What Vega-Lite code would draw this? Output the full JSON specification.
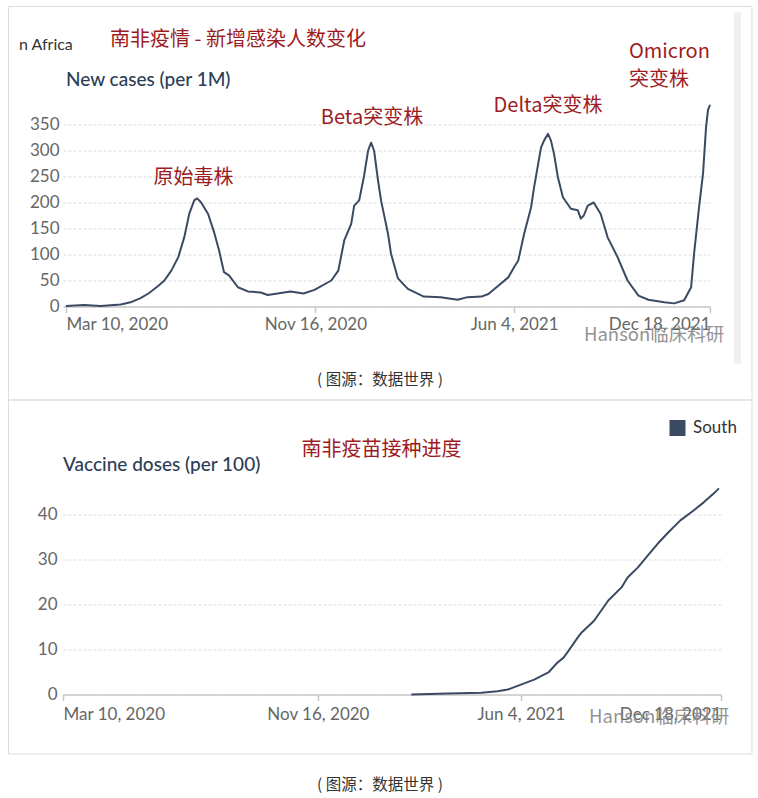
{
  "$schema": "https://vega.github.io/schema/vega-lite/v6.json",
  "background": "white",
  "padding": {"left": 7, "top": 5.5, "right": 0, "bottom": 0},
  "autosize": {"type": "pad"},
  "bounds": "flush",
  "spacing": 181,
  "config": {"view": {"stroke": null}},
  "vconcat": [
    {
      "width": 647,
      "height": 208,
      "encoding": {
        "x": {
          "field": "date", "type": "temporal", "title": null,
          "scale": {"type": "utc", "nice": false, "domain": [{"year": 2020, "month": 3, "date": 7, "utc": true}, {"year": 2021, "month": 12, "date": 18, "utc": true}]},
          "axis": {
            "values": [{"year": 2020, "month": 3, "date": 10, "utc": true}, {"year": 2020, "month": 11, "date": 16, "utc": true}, {"year": 2021, "month": 6, "date": 4, "utc": true}, {"year": 2021, "month": 12, "date": 18, "utc": true}],
            "labelExpr": "utcFormat(datum.value, '%b %-d, %Y')",
            "labelFlush": 5, "labelOverlap": false, "labelBound": false, "grid": false,
            "domainColor": "#c8c8c8", "domainWidth": 1.5, "tickColor": "#c8c8c8", "tickWidth": 1.5, "tickSize": 6,
            "labelFont": "Lato", "labelFontSize": 17, "labelColor": "#666666", "labelPadding": 4
          }
        },
        "y": {
          "field": "value", "type": "quantitative", "title": null,
          "scale": {"domain": [0, 400], "nice": false},
          "axis": {
            "values": [0, 50, 100, 150, 200, 250, 300, 350],
            "domain": false, "ticks": false, "gridColor": "#dcdcdc", "gridDash": [3, 2], "gridWidth": 1,
            "labelFont": "Lato", "labelFontSize": 17, "labelColor": "#666666", "labelPadding": 4
          }
        }
      },
      "layer": [
        {
          "data": {"values": [{"date": "2020-01-12T03:00:00Z", "date2": "2022-01-29T06:00:00Z", "value": -179.8, "value2": 576.9}], "format": {"parse": {"date": "date", "date2": "date"}}},
          "mark": {"type": "rect", "fill": "transparent", "stroke": "#dcdcdc", "strokeWidth": 1},
          "encoding": {"x2": {"field": "date2"}, "y2": {"field": "value2"}}
        },
        {
          "data": {"values": [{"date": "2022-01-11T02:00:00Z", "date2": "2022-01-18T05:00:00Z", "value": -109.6, "value2": 565.4}], "format": {"parse": {"date": "date", "date2": "date"}}},
          "mark": {"type": "rect", "fill": "#f0f0f0"},
          "encoding": {"x2": {"field": "date2"}, "y2": {"field": "value2"}}
        },
        {
          "data": {"values": [
            {"date": "2020-03-10", "value": 1}, {"date": "2020-03-28", "value": 3}, {"date": "2020-04-14", "value": 1},
            {"date": "2020-05-04", "value": 4}, {"date": "2020-05-14", "value": 8}, {"date": "2020-05-24", "value": 16},
            {"date": "2020-06-01", "value": 25}, {"date": "2020-06-11", "value": 40}, {"date": "2020-06-17", "value": 50},
            {"date": "2020-06-24", "value": 69}, {"date": "2020-07-01", "value": 95}, {"date": "2020-07-07", "value": 133},
            {"date": "2020-07-12", "value": 178}, {"date": "2020-07-17", "value": 204}, {"date": "2020-07-20", "value": 208},
            {"date": "2020-07-24", "value": 200}, {"date": "2020-07-31", "value": 178}, {"date": "2020-08-06", "value": 143},
            {"date": "2020-08-11", "value": 108}, {"date": "2020-08-16", "value": 66}, {"date": "2020-08-21", "value": 60},
            {"date": "2020-08-30", "value": 37}, {"date": "2020-09-09", "value": 29}, {"date": "2020-09-22", "value": 27},
            {"date": "2020-09-29", "value": 22}, {"date": "2020-10-09", "value": 25}, {"date": "2020-10-22", "value": 29},
            {"date": "2020-11-04", "value": 25}, {"date": "2020-11-15", "value": 32}, {"date": "2020-12-02", "value": 50},
            {"date": "2020-12-09", "value": 69}, {"date": "2020-12-15", "value": 127}, {"date": "2020-12-22", "value": 159},
            {"date": "2020-12-25", "value": 194}, {"date": "2020-12-30", "value": 204}, {"date": "2021-01-04", "value": 252},
            {"date": "2021-01-08", "value": 300}, {"date": "2021-01-11", "value": 315}, {"date": "2021-01-14", "value": 300},
            {"date": "2021-01-18", "value": 242}, {"date": "2021-01-21", "value": 204}, {"date": "2021-01-28", "value": 140},
            {"date": "2021-01-31", "value": 102}, {"date": "2021-02-07", "value": 54}, {"date": "2021-02-17", "value": 34},
            {"date": "2021-03-05", "value": 19}, {"date": "2021-03-22", "value": 18}, {"date": "2021-04-08", "value": 13},
            {"date": "2021-04-18", "value": 18}, {"date": "2021-05-02", "value": 19}, {"date": "2021-05-09", "value": 24},
            {"date": "2021-05-19", "value": 40}, {"date": "2021-05-29", "value": 56}, {"date": "2021-06-04", "value": 76},
            {"date": "2021-06-08", "value": 88}, {"date": "2021-06-14", "value": 140}, {"date": "2021-06-21", "value": 191},
            {"date": "2021-06-24", "value": 229}, {"date": "2021-07-01", "value": 306}, {"date": "2021-07-04", "value": 319},
            {"date": "2021-07-08", "value": 332}, {"date": "2021-07-11", "value": 319}, {"date": "2021-07-14", "value": 294},
            {"date": "2021-07-18", "value": 248}, {"date": "2021-07-23", "value": 210}, {"date": "2021-07-31", "value": 188},
            {"date": "2021-08-07", "value": 185}, {"date": "2021-08-10", "value": 169}, {"date": "2021-08-13", "value": 175},
            {"date": "2021-08-17", "value": 194}, {"date": "2021-08-23", "value": 200}, {"date": "2021-08-30", "value": 178},
            {"date": "2021-09-06", "value": 133}, {"date": "2021-09-16", "value": 95}, {"date": "2021-09-26", "value": 50},
            {"date": "2021-10-07", "value": 21}, {"date": "2021-10-17", "value": 13}, {"date": "2021-11-02", "value": 8},
            {"date": "2021-11-12", "value": 6}, {"date": "2021-11-22", "value": 12}, {"date": "2021-11-29", "value": 37},
            {"date": "2021-12-02", "value": 102}, {"date": "2021-12-07", "value": 191}, {"date": "2021-12-11", "value": 256},
            {"date": "2021-12-14", "value": 344}, {"date": "2021-12-16", "value": 378}, {"date": "2021-12-18", "value": 388}
          ]},
          "mark": {"type": "line", "color": "#3b4a63", "strokeWidth": 2, "strokeJoin": "round"}
        },
        {
          "data": {"values": [
            {"label": "南非疫情 - 新增感染人数变化", "date": "2020-08-30T01:00:00Z", "value": 501.5},
            {"label": "原始毒株", "date": "2020-07-16T07:00:00Z", "value": 235.6},
            {"label": "Beta突变株", "date": "2021-01-11T22:00:00Z", "value": 351.3},
            {"label": "Delta突变株", "date": "2021-07-08T00:00:00Z", "value": 373.7}
          ]},
          "mark": {"type": "text", "font": "Noto Sans CJK SC", "fontSize": 20, "color": "#9c1c1f", "align": "center", "baseline": "alphabetic"},
          "encoding": {"text": {"field": "label"}}
        },
        {
          "data": {"values": [
            {"label": "Omicron", "date": "2021-09-27T12:00:00Z", "value": 478.3},
            {"label": "突变株", "date": "2021-09-27T12:00:00Z", "value": 424.6}
          ]},
          "mark": {"type": "text", "font": "Noto Sans CJK SC", "fontSize": 20, "color": "#9c1c1f", "align": "left", "baseline": "alphabetic"},
          "encoding": {"text": {"field": "label"}}
        },
        {
          "data": {"values": [{"label": "New cases (per 1M)", "date": "2020-03-10T00:00:00Z", "value": 423.1}]},
          "mark": {"type": "text", "font": "Lato", "fontSize": 19, "fontWeight": 500, "color": "#2c3e57", "align": "left", "baseline": "alphabetic"},
          "encoding": {"text": {"field": "label"}}
        },
        {
          "data": {"values": [{"label": "n Africa", "date": "2020-01-22T17:00:00Z", "value": 493.7}]},
          "mark": {"type": "text", "font": "Lato", "fontSize": 16, "color": "#333333", "align": "left", "baseline": "alphabetic"},
          "encoding": {"text": {"field": "label"}}
        },
        {
          "data": {"values": [{"label": "Hanson临床科研", "date": "2021-08-13T05:00:00Z", "value": -65.4}]},
          "mark": {"type": "text", "font": "Noto Sans CJK SC", "fontSize": 18.5, "color": "#888888", "opacity": 0.9, "align": "left", "baseline": "alphabetic"},
          "encoding": {"text": {"field": "label"}}
        },
        {
          "data": {"values": [{"label": "( 图源：数据世界 )", "date": "2021-01-19T22:00:00Z", "value": -151.9}]},
          "mark": {"type": "text", "font": "Noto Sans CJK SC", "fontSize": 15.5, "color": "#333333", "align": "center", "baseline": "alphabetic"},
          "encoding": {"text": {"field": "label"}}
        }
      ]
    },
    {
      "width": 658,
      "height": 207,
      "encoding": {
        "x": {
          "field": "date", "type": "temporal", "title": null,
          "scale": {"type": "utc", "nice": false, "domain": [{"year": 2020, "month": 3, "date": 10, "utc": true}, {"year": 2021, "month": 12, "date": 18, "utc": true}]},
          "axis": {
            "values": [{"year": 2020, "month": 3, "date": 10, "utc": true}, {"year": 2020, "month": 11, "date": 16, "utc": true}, {"year": 2021, "month": 6, "date": 4, "utc": true}, {"year": 2021, "month": 12, "date": 18, "utc": true}],
            "labelExpr": "utcFormat(datum.value, '%b %-d, %Y')",
            "labelFlush": true, "labelOverlap": false, "labelBound": false, "grid": false,
            "domainColor": "#c8c8c8", "domainWidth": 1.5, "tickColor": "#c8c8c8", "tickWidth": 1.5, "tickSize": 6,
            "labelFont": "Lato", "labelFontSize": 17, "labelColor": "#666666", "labelPadding": 6
          }
        },
        "y": {
          "field": "value", "type": "quantitative", "title": null,
          "scale": {"domain": [0, 46], "nice": false},
          "axis": {
            "values": [0, 10, 20, 30, 40],
            "domain": false, "ticks": false, "gridColor": "#dcdcdc", "gridDash": [3, 2], "gridWidth": 1,
            "labelFont": "Lato", "labelFontSize": 17, "labelColor": "#666666", "labelPadding": 6
          }
        }
      },
      "layer": [
        {
          "data": {"values": [{"date": "2020-01-16T08:00:00Z", "date2": "2022-01-17T12:00:00Z", "value": -13.22, "value2": 65.44}], "format": {"parse": {"date": "date", "date2": "date"}}},
          "mark": {"type": "rect", "fill": "transparent", "stroke": "#dcdcdc", "strokeWidth": 1},
          "encoding": {"x2": {"field": "date2"}, "y2": {"field": "value2"}}
        },
        {
          "data": {"values": [
            {"entity": "South Africa", "date": "2021-02-16", "value": 0}, {"entity": "South Africa", "date": "2021-03-24", "value": 0.2},
            {"entity": "South Africa", "date": "2021-04-26", "value": 0.4}, {"entity": "South Africa", "date": "2021-05-12", "value": 0.7},
            {"entity": "South Africa", "date": "2021-05-22", "value": 1.1}, {"entity": "South Africa", "date": "2021-06-04", "value": 2.2},
            {"entity": "South Africa", "date": "2021-06-17", "value": 3.3}, {"entity": "South Africa", "date": "2021-07-01", "value": 4.9},
            {"entity": "South Africa", "date": "2021-07-10", "value": 7.1}, {"entity": "South Africa", "date": "2021-07-16", "value": 8.2},
            {"entity": "South Africa", "date": "2021-07-23", "value": 10.4}, {"entity": "South Africa", "date": "2021-07-30", "value": 12.7},
            {"entity": "South Africa", "date": "2021-08-02", "value": 13.6}, {"entity": "South Africa", "date": "2021-08-15", "value": 16.4},
            {"entity": "South Africa", "date": "2021-08-29", "value": 20.9}, {"entity": "South Africa", "date": "2021-09-11", "value": 23.8},
            {"entity": "South Africa", "date": "2021-09-17", "value": 26}, {"entity": "South Africa", "date": "2021-09-27", "value": 28.2},
            {"entity": "South Africa", "date": "2021-10-07", "value": 30.9}, {"entity": "South Africa", "date": "2021-10-17", "value": 33.6},
            {"entity": "South Africa", "date": "2021-10-27", "value": 36}, {"entity": "South Africa", "date": "2021-11-08", "value": 38.7},
            {"entity": "South Africa", "date": "2021-11-21", "value": 40.9}, {"entity": "South Africa", "date": "2021-12-01", "value": 42.7},
            {"entity": "South Africa", "date": "2021-12-11", "value": 44.7}, {"entity": "South Africa", "date": "2021-12-16", "value": 45.8}
          ]},
          "mark": {"type": "line", "strokeWidth": 2, "strokeJoin": "round"},
          "encoding": {
            "color": {
              "field": "entity", "type": "nominal",
              "scale": {"range": ["#3b4a63"]},
              "legend": {
                "orient": "none", "legendX": 606, "legendY": 321, "title": null, "padding": 0,
                "symbolType": "square", "symbolSize": 256, "symbolStrokeWidth": 0, "symbolFillColor": "#3b4a63", "symbolOpacity": 1,
                "labelFont": "Lato", "labelFontSize": 17, "labelColor": "#333333", "labelOffset": 7,
                "labelExpr": "slice(datum.label, 0, 5)",
                "encode": {"symbols": {"update": {"fill": {"value": "#3b4a63"}, "stroke": {"value": "#3b4a63"}, "strokeWidth": {"value": 0}}}}
              }
            }
          }
        },
        {
          "data": {"values": [{"label": "南非疫苗接种进度", "date": "2021-01-17T17:00:00Z", "value": 53.07}]},
          "mark": {"type": "text", "font": "Noto Sans CJK SC", "fontSize": 20, "color": "#9c1c1f", "align": "center", "baseline": "alphabetic"},
          "encoding": {"text": {"field": "label"}}
        },
        {
          "data": {"values": [{"label": "Vaccine doses (per 100)", "date": "2020-03-10T00:00:00Z", "value": 49.62}]},
          "mark": {"type": "text", "font": "Lato", "fontSize": 19, "fontWeight": 500, "color": "#2c3e57", "align": "left", "baseline": "alphabetic"},
          "encoding": {"text": {"field": "label"}}
        },
        {
          "data": {"values": [{"label": "Hanson临床科研", "date": "2021-08-10T00:00:00Z", "value": -6.44}]},
          "mark": {"type": "text", "font": "Noto Sans CJK SC", "fontSize": 18.5, "color": "#888888", "opacity": 0.9, "align": "left", "baseline": "alphabetic"},
          "encoding": {"text": {"field": "label"}}
        },
        {
          "data": {"values": [{"label": "( 图源：数据世界 )", "date": "2021-01-16T05:00:00Z", "value": -21.33}]},
          "mark": {"type": "text", "font": "Noto Sans CJK SC", "fontSize": 15.5, "color": "#333333", "align": "center", "baseline": "alphabetic"},
          "encoding": {"text": {"field": "label"}}
        }
      ]
    }
  ]
}
